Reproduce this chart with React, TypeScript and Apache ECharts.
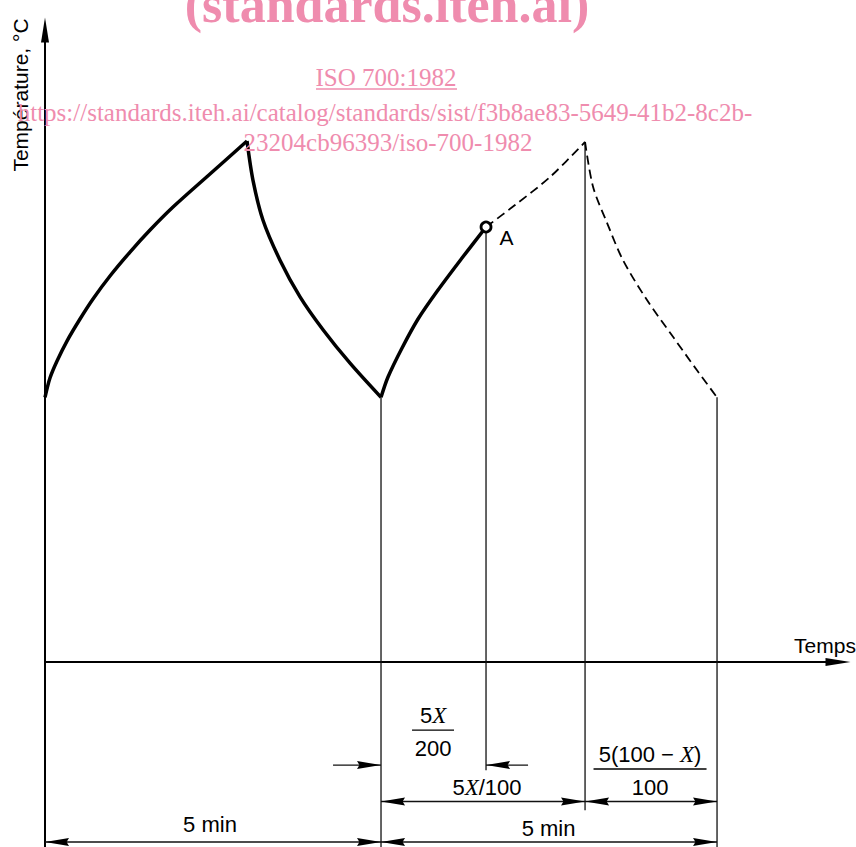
import React, { useEffect, useRef } from 'react';
import * as echarts from 'echarts';

// Time in minutes, temperature in arbitrary units (diagram is schematic)
const heating1: number[][] = [
  [0, 41.1], [0.074, 44.1], [0.179, 46.74], [0.327, 49.84], [0.521, 53.26], [0.714, 56.37],
  [0.967, 59.94], [1.265, 63.66], [1.563, 67.08], [1.905, 70.65], [2.455, 75.78], [3.006, 80.9],
];
const cooling1: number[][] = [
  [3.006, 80.9], [3.095, 74.8], [3.244, 68.6], [3.497, 62.4], [3.795, 56.7], [4.137, 51.6],
  [4.539, 46.4], [5.0, 41.1],
];
const heating2Measured: number[][] = [
  [5.0, 41.1], [5.104, 44.25], [5.313, 48.76], [5.551, 53.26], [5.848, 57.76], [6.205, 62.73], [6.5625, 67.55],
];
const heating2Expected: number[][] = [
  [6.5625, 67.55], [6.994, 70.96], [7.515, 75.31], [8.036, 80.75],
];
const cooling2Expected: number[][] = [
  [8.036, 80.75], [8.155, 73.8], [8.363, 68.2], [8.601, 62.4], [8.958, 56.2], [9.345, 50.5],
  [9.702, 45.3], [10.0, 41.1],
];
const pointA: number[][] = [[6.5625, 67.55]];

const curves = [heating1, cooling1, heating2Measured, heating2Expected, cooling2Expected];
const curveDashed = [0, 0, 0, 1, 1];

// extension lines: [x, yTop, yBottom]
const extensionLines: number[][] = [
  [5, 41.1, -28.72], [6.5625, 67.55, -16.8], [8.036, 80.75, -23.0], [10, 41.1, -28.72],
];
// dimension lines: [xFrom, xTo, level, bothEnds]
const dimensionLines: number[][] = [
  [4.286, 5, -16.0, 0], [7.188, 6.5625, -16.0, 0],
  [5, 8.036, -21.66, 1], [8.036, 10, -21.66, 1],
  [0, 5, -27.95, 1], [5, 10, -27.95, 1],
];
// plain dimension labels
const dimLabelTexts = ['5 min', '5 min', '5{i|X}/100'];
const dimLabelAnchors: number[][] = [[2.455, -25.23], [7.493, -25.85], [6.577, -19.49]];
// fraction labels
const fracNumerators = ['5{i|X}', '5(100 \u2212 {i|X})'];
const fracDenominators = ['200', '100'];
const fracAnchors: number[][] = [[5.774, -10.56], [9.003, -16.61]];
const fracHalfWidths = [21, 56.5];

const PINK = '#ef8cae';
const INK = '#000';
const SANS = 'Liberation Sans, Arial, sans-serif';
const SERIF = 'Liberation Serif, Times New Roman, serif';

const richItalic = { i: { fontStyle: 'italic', fontFamily: SERIF, fontSize: 23, fill: INK, color: INK } };

export default function App() {
  const ref = useRef<HTMLDivElement>(null);
  useEffect(() => {
    if (!ref.current) return;
    const chart = echarts.init(ref.current, undefined, { renderer: 'svg' });
    const option: any = {
      animation: false,
      backgroundColor: '#fff',
      grid: { left: 45, right: 18, top: 30, bottom: 0, containLabel: false, outerBoundsMode: 'none' },
      xAxis: {
        type: 'value', min: 0, max: 11.8,
        axisLine: { onZero: true, symbol: ['none', 'triangle'], symbolSize: [8, 25], lineStyle: { color: INK, width: 2 } },
        axisTick: { show: false }, axisLabel: { show: false }, splitLine: { show: false },
      },
      yAxis: {
        type: 'value', min: -28.72, max: 98.14,
        axisLine: { show: true, onZero: true, symbol: ['none', 'triangle'], symbolSize: [8, 25], lineStyle: { color: INK, width: 2 } },
        axisTick: { show: false }, axisLabel: { show: false }, splitLine: { show: false },
      },
      series: [
        {
          type: 'custom', coordinateSystem: 'cartesian2d', silent: true, z: 3,
          data: curves.map((c) => c[0]),
          renderItem: (p: any, api: any) => {
            const pts = curves[p.dataIndex].map((d) => api.coord(d));
            const dashed = curveDashed[p.dataIndex] === 1;
            return {
              type: 'polyline',
              shape: { points: pts, smooth: 0.3 },
              style: dashed
                ? { stroke: INK, fill: 'none', lineWidth: 1.8, lineDash: [9, 5] }
                : { stroke: INK, fill: 'none', lineWidth: 3.5, lineJoin: 'round' },
            };
          },
        },
        {
          type: 'custom', coordinateSystem: 'cartesian2d', data: extensionLines, silent: true,
          renderItem: (_p: any, api: any) => {
            const a = api.coord([api.value(0), api.value(1)]);
            const b = api.coord([api.value(0), api.value(2)]);
            return { type: 'line', shape: { x1: a[0], y1: a[1], x2: b[0], y2: b[1] }, style: { stroke: '#111', lineWidth: 1.3 } };
          },
        },
        {
          type: 'custom', coordinateSystem: 'cartesian2d', data: dimensionLines, silent: true,
          renderItem: (_p: any, api: any) => {
            const x1 = api.value(0), x2 = api.value(1), lv = api.value(2), both = api.value(3);
            const p1 = api.coord([x1, lv]);
            const p2 = api.coord([x2, lv]);
            const L = 24, W = 8;
            const arrow = (tip: number[], dir: number) => ({
              type: 'polygon',
              shape: { points: [[tip[0], tip[1]], [tip[0] - dir * L, tip[1] - W / 2], [tip[0] - dir * L * 0.9, tip[1]], [tip[0] - dir * L, tip[1] + W / 2]] },
              style: { fill: INK },
            });
            const d = Math.sign(p2[0] - p1[0]);
            const children: any[] = [
              { type: 'line', shape: { x1: p1[0], y1: p1[1], x2: p2[0], y2: p2[1] }, style: { stroke: '#111', lineWidth: 1.4 } },
              arrow(p2, d),
            ];
            if (both) children.push(arrow(p1, -d));
            return { type: 'group', children };
          },
        },
        {
          type: 'custom', coordinateSystem: 'cartesian2d', data: dimLabelAnchors, silent: true,
          renderItem: (p: any, api: any) => {
            const c = api.coord([api.value(0), api.value(1)]);
            return {
              type: 'text', x: c[0], y: c[1],
              style: { text: dimLabelTexts[p.dataIndex], fill: INK, fontFamily: SANS, fontSize: 22, align: 'center', verticalAlign: 'middle', rich: richItalic },
            };
          },
        },
        {
          type: 'custom', coordinateSystem: 'cartesian2d', data: fracAnchors, silent: true,
          renderItem: (p: any, api: any) => {
            const c = api.coord([api.value(0), api.value(1)]);
            const hw = fracHalfWidths[p.dataIndex];
            return {
              type: 'group',
              children: [
                { type: 'line', shape: { x1: c[0] - hw, y1: c[1], x2: c[0] + hw, y2: c[1] }, style: { stroke: INK, lineWidth: 1.3 } },
                { type: 'text', x: c[0], y: c[1] - 15, style: { text: fracNumerators[p.dataIndex], fill: INK, fontFamily: SANS, fontSize: 22, align: 'center', verticalAlign: 'middle', rich: richItalic } },
                { type: 'text', x: c[0], y: c[1] + 18, style: { text: fracDenominators[p.dataIndex], fill: INK, fontFamily: SANS, fontSize: 22, align: 'center', verticalAlign: 'middle' } },
              ],
            };
          },
        },
        {
          type: 'scatter', data: pointA, symbol: 'circle', symbolSize: 10, z: 5,
          itemStyle: { color: '#fff', borderColor: INK, borderWidth: 2.8, opacity: 1 },
          label: { show: true, formatter: 'A', position: 'right', distance: 7, offset: [0, 10], color: INK, fontFamily: SANS, fontSize: 21, textBorderWidth: 0 },
        },
      ],
      graphic: [
        { type: 'text', x: 387, y: 4, z: 100, style: { text: '(standards.iteh.ai)', fill: PINK, fontFamily: SERIF, fontWeight: 'bold', fontSize: 52, align: 'center', verticalAlign: 'middle' } },
        { type: 'text', x: 386, y: 77, z: 100, style: { text: 'ISO 700:1982', fill: PINK, fontFamily: SERIF, fontSize: 25, align: 'center', verticalAlign: 'middle' } },
        { type: 'line', z: 100, shape: { x1: 316, y1: 89, x2: 457, y2: 89 }, style: { stroke: PINK, lineWidth: 1.5 } },
        { type: 'text', x: 385, y: 112, z: 100, style: { text: 'https://standards.iteh.ai/catalog/standards/sist/f3b8ae83-5649-41b2-8c2b-', fill: PINK, fontFamily: SERIF, fontSize: 25, align: 'center', verticalAlign: 'middle' } },
        { type: 'text', x: 388, y: 142, z: 100, style: { text: '23204cb96393/iso-700-1982', fill: PINK, fontFamily: SERIF, fontSize: 25, align: 'center', verticalAlign: 'middle' } },
        { type: 'text', x: 20, y: 95, rotation: Math.PI / 2, z: 50, style: { text: 'Température, °C', fill: INK, fontFamily: SANS, fontSize: 21, align: 'center', verticalAlign: 'middle' } },
        { type: 'text', x: 825, y: 645, z: 50, style: { text: 'Temps', fill: INK, fontFamily: SANS, fontSize: 21, align: 'center', verticalAlign: 'middle' } },
      ],
    };
    chart.setOption(option);
    return () => chart.dispose();
  }, []);
  return <div ref={ref} style={{ position: 'absolute', left: 0, top: 0, width: 856, height: 847 }} />;
}
